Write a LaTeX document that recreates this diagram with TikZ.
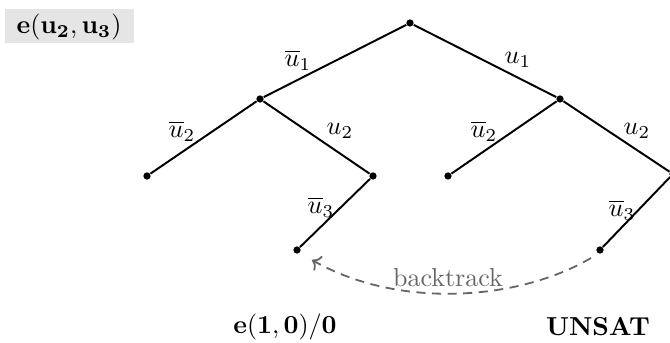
\documentclass[tikz,border=0pt]{standalone}
\usepackage{amsmath}
\usetikzlibrary{arrows.meta}
\begin{document}
\begin{tikzpicture}[x=0.3846pt,y=-0.3846pt,
  vtx/.style={circle,fill=black,inner sep=0pt,minimum size=2.8pt},
  edge/.style={line width=0.75pt},
  lbl/.style={inner sep=1pt},
  bt/.style={gray!80!black,line width=0.7pt,dash pattern=on 3.5pt off 2.5pt,-{To[length=3pt,width=6.5pt]}}]
\useasboundingbox (0,0) rectangle (670,343);
\fill[gray!20] (5,9) rectangle (134,43);
\node (title) at (69,27) {$\mathbf{e(u_2, u_3)}$};
\node[vtx] (r) at (410,23) {};
\node[vtx] (a) at (260,99) {};
\node[vtx] (b) at (560,99) {};
\node[vtx] (aa) at (147,176) {};
\node[vtx] (ab) at (373,176) {};
\node[vtx] (ba) at (448,176) {};
\node[vtx] (bb) at (673,174) {};
\node[vtx] (abx) at (297,250) {};
\node[vtx] (bbx) at (600,250) {};
\draw[edge] (r) -- (a);
\draw[edge] (r) -- (b);
\draw[edge] (a) -- (aa);
\draw[edge] (a) -- (ab);
\draw[edge] (b) -- (ba);
\draw[edge] (b) -- (bb);
\draw[edge] (ab) -- (abx);
\draw[edge] (bb) -- (bbx);
\node[lbl] (l1) at (298,60) {$\overline{u}_1$};
\node[lbl] (l2) at (518,60) {$u_1$};
\node[lbl] (l3) at (182,131) {$\overline{u}_2$};
\node[lbl] (l4) at (340,131) {$u_2$};
\node[lbl] (l5) at (484,131) {$\overline{u}_2$};
\node[lbl] (l6) at (637,131) {$u_2$};
\node[lbl] (l7) at (321,207) {$\overline{u}_3$};
\node[lbl] (l8) at (622,210) {$\overline{u}_3$};
\coordinate (s) at (591,258);
\coordinate (t) at (312,260);
\draw[bt] (s) .. controls (520,300) and (400,310) .. (t);
\node[gray!80!black,inner sep=1pt] (btl) at (448,278) {backtrack};
\node (res1) at (285,327) {$\mathbf{e(1,0)/0}$};
\node (res2) at (598,327) {\textbf{UNSAT}};
\end{tikzpicture}
\end{document}
